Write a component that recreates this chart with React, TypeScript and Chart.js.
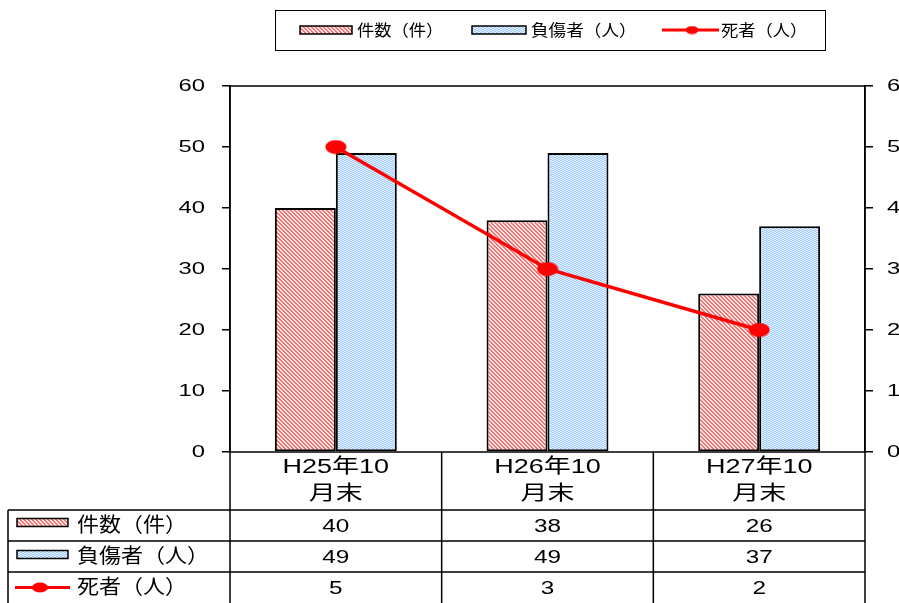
import { useEffect, useRef } from 'react';
import { Chart, registerables } from 'chart.js';

Chart.register(...registerables);

// ---- data ----
const categoryLines: string[][] = [
  ['H25年10', '月末'],
  ['H26年10', '月末'],
  ['H27年10', '月末'],
];
const categories = categoryLines.map((l) => l.join(''));
const caseCounts = [40, 38, 26];
const injuredCounts = [49, 49, 37];
const deathCounts = [5, 3, 2];
const seriesNames = ['件数（件）', '負傷者（人）', '死者（人）'];
const leftMax = 60;
const leftStep = 10;
const rightMax = 6;
const rightStep = 1;

const W = 899;
const H = 603;
const NUM_FONT = '"Liberation Sans", "Noto Sans CJK JP", sans-serif';
const CJK_FONT = '"Noto Sans CJK JP", "Liberation Sans", sans-serif';

function makeTile(w: number, h: number, fn: (x: number, y: number) => number[]) {
  const c = document.createElement('canvas');
  c.width = w;
  c.height = h;
  const g = c.getContext('2d')!;
  const img = g.createImageData(w, h);
  for (let y = 0; y < h; y++) {
    for (let x = 0; x < w; x++) {
      const [r, gg, b] = fn(x, y);
      const i = (y * w + x) * 4;
      img.data[i] = r;
      img.data[i + 1] = gg;
      img.data[i + 2] = b;
      img.data[i + 3] = 255;
    }
  }
  g.putImageData(img, 0, 0);
  return c;
}

function makeEllipse(w: number, h: number) {
  const c = document.createElement('canvas');
  c.width = w;
  c.height = h;
  const g = c.getContext('2d')!;
  g.fillStyle = '#ff0000';
  g.beginPath();
  g.ellipse(w / 2, h / 2, w / 2 - 0.5, h / 2 - 0.5, 0, 0, Math.PI * 2);
  g.fill();
  return c;
}

function sText(
  ctx: CanvasRenderingContext2D,
  text: string,
  x: number,
  y: number,
  align: 'left' | 'right' | 'center',
  font: string,
  sx: number,
  color = '#000'
) {
  ctx.save();
  ctx.font = font;
  ctx.fillStyle = color;
  ctx.textBaseline = 'middle';
  ctx.textAlign = 'left';
  const w = ctx.measureText(text).width * sx;
  const left = align === 'left' ? x : align === 'right' ? x - w : x - w / 2;
  ctx.translate(left, y);
  ctx.scale(sx, 1);
  ctx.fillText(text, 0, 0);
  ctx.restore();
}

export default function App() {
  const ref = useRef<HTMLCanvasElement | null>(null);

  useEffect(() => {
    const canvas = ref.current!;
    const ctx0 = canvas.getContext('2d')!;
    const hatchTile = makeTile(4, 4, (x, y) =>
      ((x - y + 40) % 4) < 2 ? [242, 120, 120] : [255, 228, 228]
    );
    const dotTile = makeTile(4, 2, (x, y) =>
      (Math.floor(x / 2) + y) % 2 === 0 ? [160, 205, 250] : [228, 240, 255]
    );
    const hatch = ctx0.createPattern(hatchTile, 'repeat')!;
    const dots = ctx0.createPattern(dotTile, 'repeat')!;
    const bigDot = makeEllipse(22, 15);
    const smallDot = makeEllipse(17, 11);
    const legendDot = makeEllipse(14, 9);

    const decor = {
      id: 'decor',
      afterDraw(chart: any) {
        const ctx: CanvasRenderingContext2D = chart.ctx;
        const ca = chart.chartArea;
        const xs = chart.scales.x;
        const yL = chart.scales.y;
        const yR = chart.scales.y1;

        // plot border
        ctx.save();
        ctx.strokeStyle = '#000';
        ctx.lineWidth = 1.5;
        ctx.strokeRect(ca.left, ca.top, ca.right - ca.left, ca.bottom - ca.top);
        ctx.restore();

        // tick labels
        const axisFont = `17px ${NUM_FONT}`;
        yL.ticks.forEach((t: any, i: number) => {
          sText(ctx, String(t.value), ca.left - 25, yL.getPixelForTick(i), 'right', axisFont, 1.4);
        });
        yR.ticks.forEach((t: any, i: number) => {
          sText(ctx, String(t.value), ca.right + 22, yR.getPixelForTick(i), 'left', axisFont, 1.4);
        });

        // legend
        ctx.save();
        ctx.strokeStyle = '#000';
        ctx.lineWidth = 1;
        ctx.strokeRect(275.5, 10.5, 550, 40);
        const ly = 30;
        const legFont = `16px ${CJK_FONT}`;
        ctx.fillStyle = hatch;
        ctx.fillRect(300, ly - 4, 52, 8);
        ctx.lineWidth = 1.5;
        ctx.strokeRect(300, ly - 4, 52, 8);
        sText(ctx, seriesNames[0], 357, ly, 'left', legFont, 1.08);
        ctx.fillStyle = dots;
        ctx.fillRect(472, ly - 4, 54, 8);
        ctx.strokeRect(472, ly - 4, 54, 8);
        sText(ctx, seriesNames[1], 531, ly, 'left', legFont, 1.1);
        ctx.strokeStyle = '#ff0000';
        ctx.lineWidth = 3;
        ctx.beginPath();
        ctx.moveTo(662, ly);
        ctx.lineTo(719, ly);
        ctx.stroke();
        ctx.drawImage(legendDot, 692 - 7, ly - 4.5);
        sText(ctx, seriesNames[2], 721, ly, 'left', legFont, 1.08);
        ctx.restore();

        // data table
        const rowTops = [ca.bottom, 510, 541, 572, 603];
        const bounds: number[] = [ca.left];
        for (let i = 0; i < categories.length - 1; i++) {
          bounds.push((xs.getPixelForValue(i) + xs.getPixelForValue(i + 1)) / 2);
        }
        bounds.push(ca.right);
        const tableLeft = 8;

        ctx.save();
        ctx.strokeStyle = '#000';
        ctx.lineWidth = 1.5;
        ctx.beginPath();
        for (let r = 1; r < 4; r++) {
          ctx.moveTo(tableLeft, rowTops[r]);
          ctx.lineTo(ca.right, rowTops[r]);
        }
        ctx.moveTo(tableLeft, rowTops[1]);
        ctx.lineTo(tableLeft, H);
        bounds.forEach((bx) => {
          ctx.moveTo(bx, ca.bottom);
          ctx.lineTo(bx, H);
        });
        ctx.stroke();
        ctx.restore();

        const headFont = `20px ${NUM_FONT}`;
        const valFont = `18px ${NUM_FONT}`;
        categoryLines.forEach((lines, i) => {
          const cx = (bounds[i] + bounds[i + 1]) / 2;
          sText(ctx, lines[0], cx, 467, 'center', headFont, 1.35);
          sText(ctx, lines[1], cx, 494, 'center', headFont, 1.35);
          sText(ctx, String(caseCounts[i]), cx, 527, 'center', valFont, 1.35);
          sText(ctx, String(injuredCounts[i]), cx, 558, 'center', valFont, 1.35);
          sText(ctx, String(deathCounts[i]), cx, 589, 'center', valFont, 1.35);
        });

        // row labels
        const labFont = `20px ${CJK_FONT}`;
        const centers = [525.5, 556.5, 587.5];
        ctx.save();
        ctx.lineWidth = 1.5;
        ctx.strokeStyle = '#000';
        ctx.fillStyle = hatch;
        ctx.fillRect(17, centers[0] - 7, 51, 8);
        ctx.strokeRect(17, centers[0] - 7, 51, 8);
        ctx.fillStyle = dots;
        ctx.fillRect(17, centers[1] - 6, 51, 8);
        ctx.strokeRect(17, centers[1] - 6, 51, 8);
        ctx.strokeStyle = '#ff0000';
        ctx.lineWidth = 3;
        ctx.beginPath();
        ctx.moveTo(15, centers[2]);
        ctx.lineTo(70, centers[2]);
        ctx.stroke();
        ctx.drawImage(smallDot, 40 - 8.5, centers[2] - 5.5);
        ctx.restore();
        seriesNames.forEach((n, i) => {
          sText(ctx, n, 77, centers[i] - 1, 'left', labFont, 1.1);
        });
      },
    };

    const axisCommon = {
      grid: {
        drawOnChartArea: false,
        drawTicks: true,
        tickLength: 8,
        color: '#000',
        lineWidth: 1.5,
      },
      border: { color: '#000', width: 1.5 },
    };

    const chart = new Chart(canvas, {
      type: 'bar',
      data: {
        labels: categories,
        datasets: [
          {
            type: 'line',
            label: seriesNames[2],
            data: deathCounts,
            yAxisID: 'y1',
            borderColor: '#ff0000',
            backgroundColor: '#ff0000',
            borderWidth: 3.5,
            pointStyle: bigDot as any,
            pointRadius: 8,
            pointHoverRadius: 8,
            tension: 0,
            order: 0,
          } as any,
          {
            type: 'bar',
            label: seriesNames[0],
            data: caseCounts,
            yAxisID: 'y',
            backgroundColor: hatch as any,
            borderColor: '#000',
            borderWidth: 2,
            borderSkipped: false,
            order: 1,
          },
          {
            type: 'bar',
            label: seriesNames[1],
            data: injuredCounts,
            yAxisID: 'y',
            backgroundColor: dots as any,
            borderColor: '#000',
            borderWidth: 2,
            borderSkipped: false,
            order: 1,
          },
        ],
      },
      options: {
        animation: false,
        responsive: false,
        devicePixelRatio: 1,
        layout: { padding: { top: 86, bottom: 151, left: 0, right: 0 } },
        plugins: { legend: { display: false }, tooltip: { enabled: false } },
        datasets: { bar: { categoryPercentage: 0.576, barPercentage: 1 } },
        scales: {
          x: { display: false, offset: true },
          y: {
            position: 'left',
            min: 0,
            max: leftMax,
            ticks: { stepSize: leftStep, color: 'rgba(0,0,0,0)' },
            afterFit: (s: any) => {
              s.width = 230;
            },
            ...axisCommon,
          },
          y1: {
            position: 'right',
            min: 0,
            max: rightMax,
            ticks: { stepSize: rightStep, color: 'rgba(0,0,0,0)' },
            afterFit: (s: any) => {
              s.width = 34;
            },
            ...axisCommon,
          },
        },
      } as any,
      plugins: [decor],
    });

    return () => chart.destroy();
  }, []);

  return (
    <div style={{ position: 'absolute', left: 0, top: 0, width: W, height: H, background: '#fff' }}>
      <canvas ref={ref} width={W} height={H} style={{ display: 'block', width: W, height: H }} />
    </div>
  );
}
